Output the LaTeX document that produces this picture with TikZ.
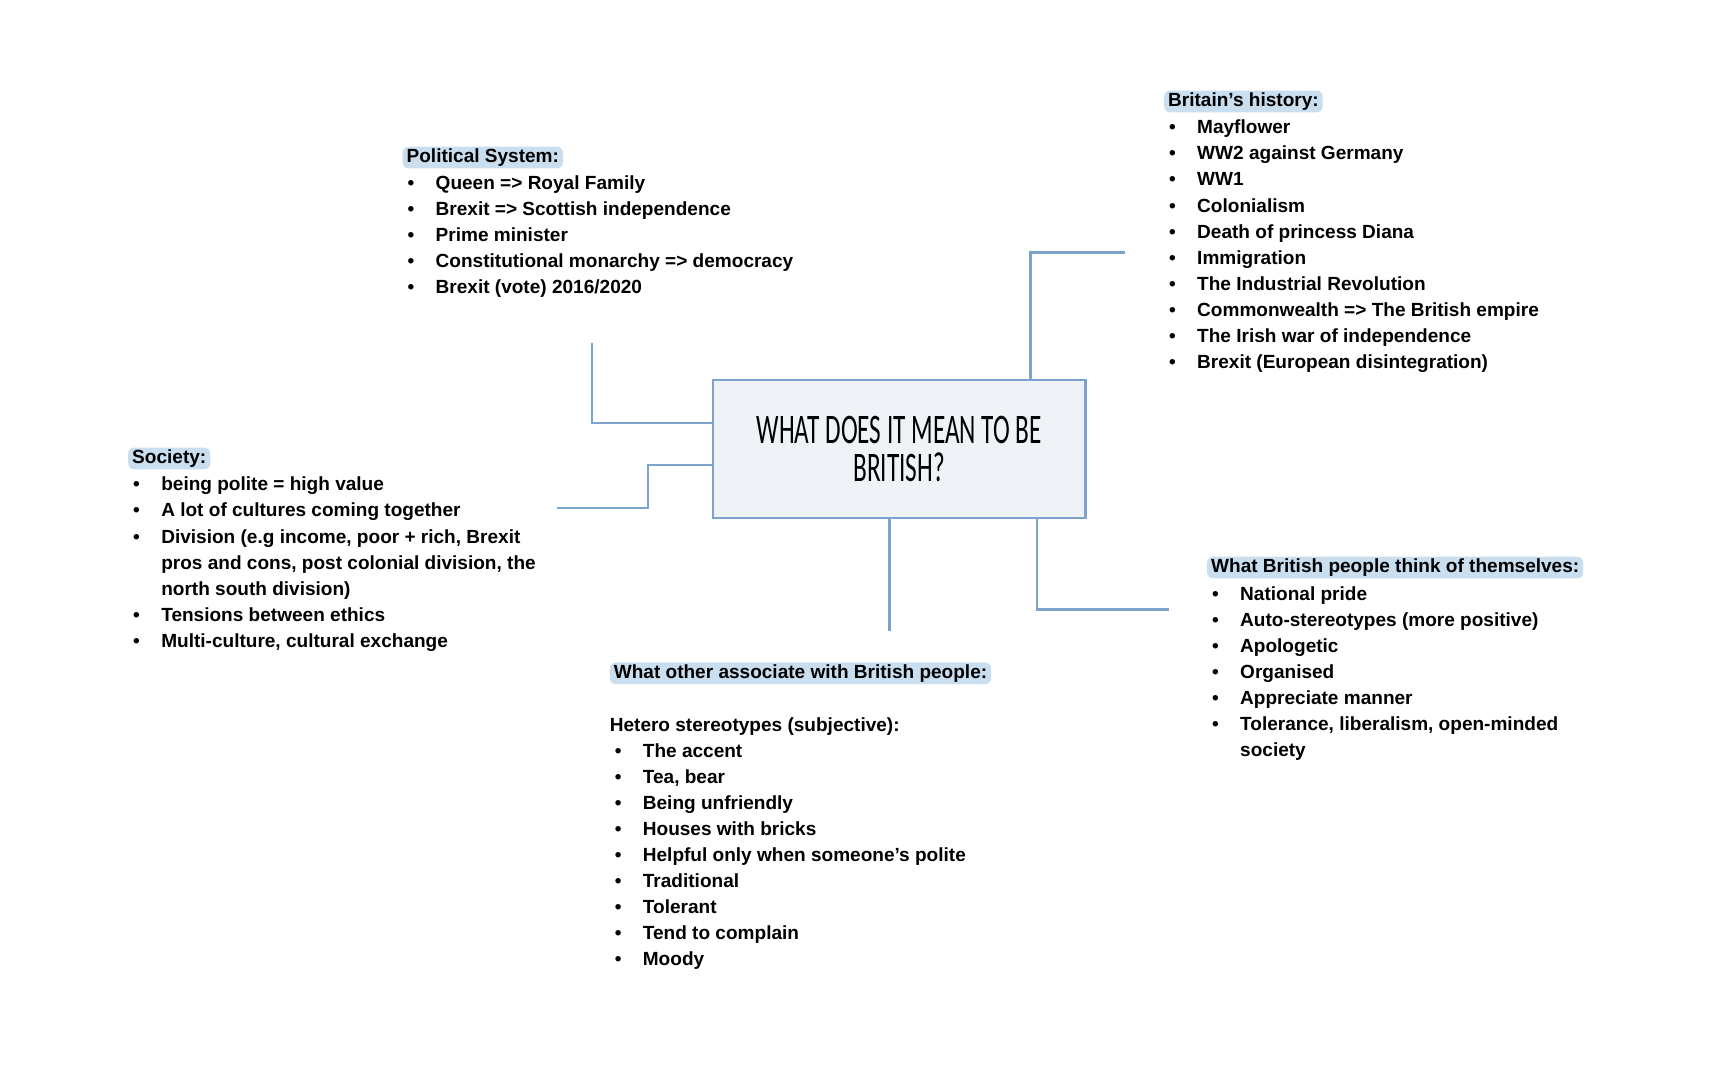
\documentclass[tikz,border=0pt]{standalone}
\usepackage{fontspec}
\setmainfont{Liberation Sans}
\newfontfamily\handfont[FakeStretch=0.6]{Carlito}
\usetikzlibrary{positioning, calc}
\usepackage{xcolor}
\definecolor{linkblue}{HTML}{7BA3CB}
\definecolor{boxfill}{HTML}{EFF3F8}
\definecolor{hilite}{HTML}{C9DFF0}
\newcommand{\bl}{\makebox[16.5pt][l]{\hspace{2.5pt}\textbullet}}
\newcommand{\cont}{\hspace*{16.5pt}}
\tikzset{
    topic/.style={
        rectangle, draw=linkblue, fill=boxfill, line width=1.1pt,
        minimum width=185.9pt, minimum height=68.75pt,
        align=center, font=\handfont\fontsize{21}{19.25}\selectfont
    },
    heading/.style={
        rectangle, rounded corners=3pt, fill=hilite,
        inner xsep=2pt, inner ysep=1pt,
        font=\bfseries\fontsize{9.5}{13}\selectfont
    },
    items/.style={
        inner sep=0pt, align=left,
        font=\bfseries\fontsize{9.5}{13}\selectfont
    },
    link/.style={draw=linkblue, line width=1.3pt}
}
\begin{document}
\begin{tikzpicture}[x=0.55pt, y=-0.55pt]
    \useasboundingbox (0,0) rectangle (1568,980);

    \node[topic] (title) at (816,407.5) {WHAT DOES IT MEAN TO BE\\BRITISH?};

    \node[heading, anchor=west] (polhead) at (365,143) {Political System:};
    \node[items, anchor=north west] (pollist) at ([yshift=-3pt]polhead.south west) {%
        \bl Queen => Royal Family\\
        \bl Brexit => Scottish independence\\
        \bl Prime minister\\
        \bl Constitutional monarchy => democracy\\
        \bl Brexit (vote) 2016/2020};

    \node[heading, anchor=west] (histhead) at (1056,92) {Britain’s history:};
    \node[items, anchor=north west] (histlist) at ([yshift=-3.5pt]histhead.south west) {%
        \bl Mayflower\\
        \bl WW2 against Germany\\
        \bl WW1\\
        \bl Colonialism\\
        \bl Death of princess Diana\\
        \bl Immigration\\
        \bl The Industrial Revolution\\
        \bl Commonwealth => The British empire\\
        \bl The Irish war of independence\\
        \bl Brexit (European disintegration)};

    \node[heading, anchor=west] (sochead) at (116,416) {Society:};
    \node[items, anchor=north west] (soclist) at ([yshift=-3.5pt]sochead.south west) {%
        \bl being polite = high value\\
        \bl A lot of cultures coming together\\
        \bl Division (e.g income, poor + rich, Brexit\\
        \cont pros and cons, post colonial division, the\\
        \cont north south division)\\
        \bl Tensions between ethics\\
        \bl Multi-culture, cultural exchange};

    \node[heading, anchor=west] (selfhead) at (1095,515) {What British people think of themselves:};
    \node[items, anchor=north west] (selflist) at ([yshift=-3.5pt]selfhead.south west) {%
        \bl National pride\\
        \bl Auto-stereotypes (more positive)\\
        \bl Apologetic\\
        \bl Organised\\
        \bl Appreciate manner\\
        \bl Tolerance, liberalism, open-minded\\
        \cont society};

    \node[heading, anchor=west] (otherhead) at (553,611) {What other associate with British people:};
    \node[items, anchor=north west] (otherlist) at ([yshift=-16.2pt]otherhead.south west) {%
        Hetero stereotypes (subjective):\\
        \bl The accent\\
        \bl Tea, bear\\
        \bl Being unfriendly\\
        \bl Houses with bricks\\
        \bl Helpful only when someone’s polite\\
        \bl Traditional\\
        \bl Tolerant\\
        \bl Tend to complain\\
        \bl Moody};

    \coordinate (polbend) at (537,384);
    \coordinate (polend) at (537,311);
    \coordinate (socbend) at (588,422);
    \coordinate (socend) at (505,461);
    \coordinate (histbend) at (935,229);
    \coordinate (histend) at (1021,229);
    \coordinate (otherend) at (807,573);
    \coordinate (selfbend) at (941,553);
    \coordinate (selfend) at (1061,553);

    \draw[link] (title.west |- polbend) -- (polbend) -- (polend);
    \draw[link] (title.west |- socbend) -- (socbend) |- (socend);
    \draw[link] (title.north -| histbend) -- (histbend) -- (histend);
    \draw[link] (title.south -| otherend) -- (otherend);
    \draw[link] (title.south -| selfbend) -- (selfbend) -- (selfend);
\end{tikzpicture}
\end{document}
